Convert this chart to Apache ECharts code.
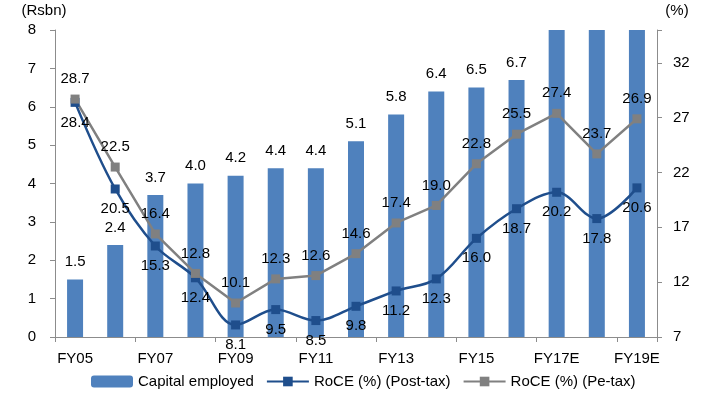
<!DOCTYPE html>
<html>
<head>
<meta charset="utf-8">
<title>Capital employed and RoCE</title>
<script src="https://cdn.jsdelivr.net/npm/echarts@6/dist/echarts.min.js"></script>
<style>
  html, body { margin: 0; padding: 0; background: #fff; }
  #chart { width: 710px; height: 401px; }
</style>
</head>
<body>
<div id="chart"></div>
<script type="text/javascript">
  // data
  var years = ['FY05', 'FY06', 'FY07', 'FY08', 'FY09', 'FY10', 'FY11', 'FY12',
               'FY13', 'FY14', 'FY15', 'FY16', 'FY17E', 'FY18E', 'FY19E'];
  // last three bars run off the top of the axis, values are guesses
  var capital = [1.5, 2.4, 3.7, 4.0, 4.2, 4.4, 4.4, 5.1, 5.8, 6.4, 6.5, 6.7, 9.0, 10.0, 11.0];
  var rocePost = [28.4, 20.5, 15.3, 12.4, 8.1, 9.5, 8.5, 9.8, 11.2, 12.3, 16.0, 18.7, 20.2, 17.8, 20.6];
  var rocePre = [28.7, 22.5, 16.4, 12.8, 10.1, 12.3, 12.6, 14.6, 17.4, 19.0, 22.8, 25.5, 27.4, 23.7, 26.9];

  var font = 'Liberation Sans, Arial, sans-serif';
  var axisGrey = '#8c8c8c';

  var myChart = echarts.init(document.getElementById('chart'));
  var option = {
    animation: false,
    textStyle: { fontFamily: font, color: '#000' },
    grid: { left: 55, right: 53, top: 30, bottom: 64 },
    legend: {
      bottom: 7,
      left: 86,
      itemGap: 12,
      itemWidth: 42,
      itemHeight: 12,
      textStyle: { fontSize: 15, color: '#000', fontFamily: font, padding: [0, 14, 0, 0] },
      data: ['Capital employed', 'RoCE (%) (Post-tax)', 'RoCE (%) (Pe-tax)']
    },
    xAxis: {
      type: 'category',
      data: years,
      boundaryGap: true,
      axisLine: { lineStyle: { color: axisGrey } },
      axisTick: { show: true, length: 5, lineStyle: { color: axisGrey } },
      axisLabel: { interval: 1, fontSize: 15, color: '#000', margin: 14 }
    },
    yAxis: [{
      type: 'value',
      name: '(Rsbn)',
      nameLocation: 'end',
      nameGap: 12,
      nameTextStyle: { fontSize: 15, color: '#000', align: 'center', padding: [0, 0, 0, -22] },
      min: 0, max: 8, interval: 1,
      axisLine: { show: true, lineStyle: { color: axisGrey } },
      axisTick: { show: true, length: 5, lineStyle: { color: axisGrey } },
      splitLine: { show: false },
      axisLabel: { fontSize: 15, color: '#000', margin: 19 }
    }, {
      type: 'value',
      name: '(%)',
      nameLocation: 'end',
      nameGap: 12,
      nameTextStyle: { fontSize: 15, color: '#000', padding: [0, 0, 0, 40] },
      min: 7, max: 35, interval: 5,
      axisLine: { show: true, lineStyle: { color: axisGrey } },
      axisTick: { show: true, length: 5, lineStyle: { color: axisGrey } },
      splitLine: { show: false },
      axisLabel: {
        fontSize: 15, color: '#000', margin: 16,
        formatter: function(v) { return v > 33 ? '' : v; }
      }
    }],
    series: [{
      name: 'Capital employed',
      type: 'bar',
      data: capital,
      barWidth: 16,
      clip: true,
      itemStyle: { color: '#4f81bd' },
      label: {
        show: true, position: 'top', distance: 10, fontSize: 15, color: '#000',
        formatter: function(p) { return p.value > 8 ? '' : p.value.toFixed(1); }
      }
    }, {
      name: 'RoCE (%) (Post-tax)',
      type: 'line',
      yAxisIndex: 1,
      data: rocePost,
      smooth: 0.35,
      symbol: 'rect',
      symbolSize: 9,
      itemStyle: { color: '#1f4e8c' },
      lineStyle: { color: '#1f4e8c', width: 2.5 },
      label: {
        show: true, position: 'bottom', distance: 8, fontSize: 15, color: '#000',
        formatter: function(p) { return p.value.toFixed(1); }
      }
    }, {
      name: 'RoCE (%) (Pe-tax)',
      type: 'line',
      yAxisIndex: 1,
      data: rocePre,
      symbol: 'rect',
      symbolSize: 9,
      itemStyle: { color: '#808080' },
      lineStyle: { color: '#808080', width: 2.5 },
      label: {
        show: true, position: 'top', distance: 8, fontSize: 15, color: '#000',
        formatter: function(p) { return p.value.toFixed(1); }
      }
    }]
  };
  myChart.setOption(option);
</script>
</body>
</html>
